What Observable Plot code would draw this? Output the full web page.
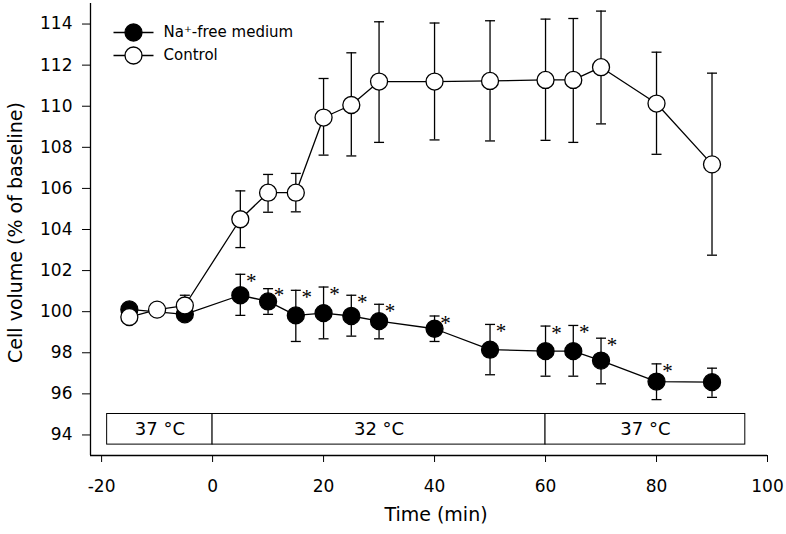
<!DOCTYPE html>
<html><head><meta charset="utf-8">
<script src="https://cdn.jsdelivr.net/npm/d3@7"></script>
<script src="https://cdn.jsdelivr.net/npm/@observablehq/plot@0.6"></script>
<style>body{margin:0;background:#fff;}</style>
</head><body><div id="chart"></div>
<script>
// Na+-free medium (filled circles)
const timeNa = [-15, -5, 5, 10, 15, 20, 25, 30, 40, 50, 60, 65, 70, 80, 90];
const meanNa = [100.11, 99.87, 100.80, 100.50, 99.82, 99.93, 99.79, 99.54, 99.17, 98.15, 98.08, 98.08, 97.62, 96.60, 96.57];
const hiNa   = [100.40, 100.15, 101.82, 101.12, 101.04, 101.20, 100.80, 100.36, 99.79, 99.38, 99.30, 99.33, 98.71, 97.46, 97.25];
const loNa   = [99.80, 99.60, 99.82, 99.87, 98.55, 98.68, 98.81, 98.68, 98.55, 96.93, 96.86, 96.86, 96.49, 95.72, 95.83];
const sigNa  = [5, 10, 15, 20, 25, 30, 40, 50, 60, 65, 70, 80];

// Control (open circles)
const timeCtl = [-15, -10, -5, 5, 10, 15, 20, 25, 30, 40, 50, 60, 65, 70, 80, 90];
const meanCtl = [99.74, 100.10, 100.30, 104.50, 105.79, 105.79, 109.45, 110.06, 111.20, 111.20, 111.23, 111.28, 111.28, 111.90, 110.13, 107.17];
const hiCtl   = [100.00, 100.40, 100.80, 105.88, 106.68, 106.73, 111.35, 112.60, 114.11, 114.05, 114.16, 114.24, 114.27, 114.63, 112.63, 111.61];
const loCtl   = [99.45, 99.80, 99.80, 103.12, 104.84, 104.86, 107.62, 107.58, 108.24, 108.36, 108.31, 108.34, 108.24, 109.14, 107.66, 102.75];

// Temperature periods
const bandStart = [-19, 0, 60];
const bandEnd   = [0, 60, 96];
const bandLabel = ["37 °C", "32 °C", "37 °C"];

const xTicks = [-20, 0, 20, 40, 60, 80, 100];
const yTicks = [94, 96, 98, 100, 102, 104, 106, 108, 110, 112, 114];
const legendLabels = ["Na⁺-free medium", "Control"];

const xDomain = [-22, 100];
const yDomain = [93, 115];
const bandBottom = 93.53, bandTop = 95.02;

const na = timeNa.map((t, i) => ({t, m: meanNa[i], lo: loNa[i], hi: hiNa[i], sig: sigNa.includes(t)}));
const ctl = timeCtl.map((t, i) => ({t, m: meanCtl[i], lo: loCtl[i], hi: hiCtl[i]}));
const bands = bandStart.map((s, i) => ({s, e: bandEnd[i], label: bandLabel[i]}));

const hline = (half) => ({draw(context) { context.moveTo(-half, 0); context.lineTo(half, 0); }});

function seriesMarks(data, fill) {
  return [
    Plot.line(data, {x: "t", y: "m", stroke: "black", strokeWidth: 1.3}),
    Plot.ruleX(data, {x: "t", y1: "lo", y2: "hi", stroke: "black", strokeWidth: 1.3}),
    Plot.dot(data, {x: "t", y: "lo", symbol: hline(5), stroke: "black", fill: "none", strokeWidth: 1.3}),
    Plot.dot(data, {x: "t", y: "hi", symbol: hline(5), stroke: "black", fill: "none", strokeWidth: 1.3}),
    Plot.dot(data, {x: "t", y: "m", r: 8.5, fill, stroke: "black", strokeWidth: 1.3})
  ];
}

const legendFills = ["black", "white"];
const legendMarks = legendLabels.flatMap((label, i) => [
  Plot.dot([label], {frameAnchor: "top-left", dx: 43, dy: 29 + 23 * i, symbol: hline(20), stroke: "black", fill: "none", strokeWidth: 1.3}),
  Plot.dot([label], {frameAnchor: "top-left", dx: 43, dy: 29 + 23 * i, r: 8.5, fill: legendFills[i], stroke: "black", strokeWidth: 1.3}),
  Plot.text([label], {frameAnchor: "top-left", dx: 73, dy: 29 + 23 * i, text: d => d, textAnchor: "start", lineAnchor: "middle", fontSize: 15})
]);

const chart = Plot.plot({
  width: 786, height: 534,
  marginLeft: 90, marginRight: 19, marginTop: 3, marginBottom: 79,
  style: {fontFamily: "DejaVu Sans", fontSize: "17px", background: "white", color: "black"},
  x: {domain: xDomain},
  y: {domain: yDomain},
  marks: [
    Plot.axisX({ticks: xTicks, tickSize: 7, tickPadding: 17, tickFormat: d => String(d), label: null, fontSize: 17, strokeWidth: 1}),
    Plot.axisY({ticks: yTicks, tickSize: 8, tickPadding: 10, tickFormat: d => String(d), label: null, fontSize: 17, strokeWidth: 1}),
    Plot.ruleX([xDomain[0]], {stroke: "black", strokeWidth: 1.3}),
    Plot.ruleY([yDomain[0]], {stroke: "black", strokeWidth: 1.3}),
    Plot.rect(bands, {x1: "s", x2: "e", y1: () => bandBottom, y2: () => bandTop, stroke: "black", fill: "white", strokeWidth: 1}),
    Plot.text(bands, {x: d => (d.s + d.e) / 2, y: () => (bandBottom + bandTop) / 2, text: "label", fontSize: 18}),
    ...seriesMarks(na, "black"),
    Plot.text(na.filter(d => d.sig), {x: "t", y: "hi", text: () => "*", dx: 11, dy: 7, fontFamily: "Liberation Serif", fontSize: 21}),
    ...seriesMarks(ctl, "white"),
    ...legendMarks,
    Plot.text(["Time (min)"], {frameAnchor: "bottom", text: d => d, textAnchor: "middle", lineAnchor: "middle", dx: 7, dy: 59, fontSize: 19}),
    Plot.text(["Cell volume (% of baseline)"], {frameAnchor: "left", text: d => d, textAnchor: "middle", lineAnchor: "middle", rotate: -90, dx: -75, dy: 3, fontSize: 19})
  ]
});
document.getElementById("chart").appendChild(chart);
</script>
</body></html>
